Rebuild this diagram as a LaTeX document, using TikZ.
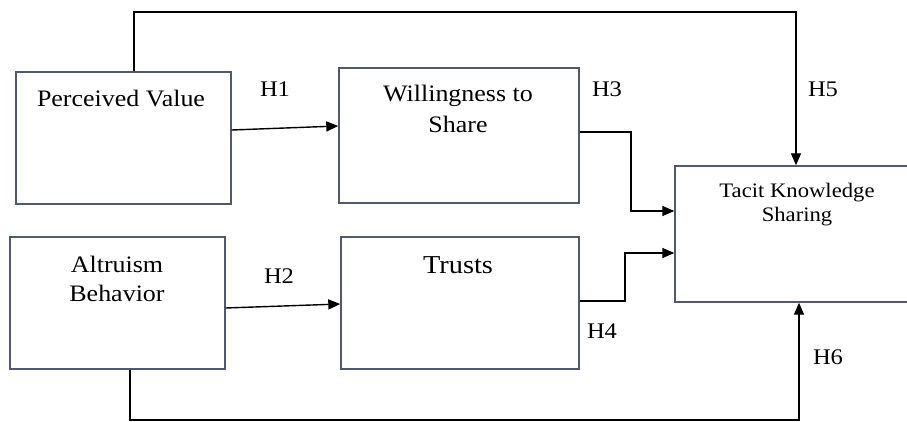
\documentclass[tikz,border=0pt]{standalone}
\usepackage{fontspec}
\setmainfont{Liberation Serif}[FakeStretch=1.1]
\usetikzlibrary{arrows.meta}
\definecolor{boxcol}{RGB}{80,90,110}
\tikzset{
  box/.style={draw=boxcol, line width=1.4pt, rectangle, inner sep=0pt},
  lbl/.style={inner sep=0pt, anchor=base, font=\fontsize{23.6}{28}\selectfont},
  hlbl/.style={inner sep=0pt, anchor=base, font=\fontsize{22.3}{28}\selectfont},
  conn/.style={draw=black, line width=1.4pt},
  arr/.style={conn, -{Triangle[length=12pt,width=10pt]}}
}
\begin{document}
\begin{tikzpicture}[x=1pt,y=-1pt]
\useasboundingbox (0,0) rectangle (907,422);
\clip (0,0) rectangle (907,422);
% boxes
\node[box, minimum width=215pt, minimum height=132pt] (pv) at (123.5,138) {};
\node[box, minimum width=240pt, minimum height=135pt] (ws) at (459,135.5) {};
\node[box, minimum width=215pt, minimum height=132pt] (ab) at (117.5,303) {};
\node[box, minimum width=238pt, minimum height=132pt] (tr) at (460,303) {};
\node[box, minimum width=280pt, minimum height=136pt] (tks) at (815,234) {};
% texts
\node[lbl] (pvt) at (121,107) {Perceived Value};
\node[lbl] (wst1) at (458,102) {Willingness to};
\node[lbl] (wst2) at (458,133) {Share};
\node[lbl] (abt1) at (117,272) {Altruism};
\node[lbl] (abt2) at (117,301) {Behavior};
\node[lbl, font=\fontsize{25.8}{30}\selectfont] (trt) at (458,273) {Trusts};
\node[lbl, font=\fontsize{20.6}{26}\selectfont] (tkst1) at (797,197) {Tacit Knowledge};
\node[lbl, font=\fontsize{20.6}{26}\selectfont] (tkst2) at (797,222) {Sharing};
% hypothesis labels
\node[hlbl] (h1) at (275,97) {H1};
\node[hlbl] (h2) at (279,283) {H2};
\node[hlbl] (h3) at (607,97) {H3};
\node[hlbl] (h4) at (602,338) {H4};
\node[hlbl] (h5) at (823,97) {H5};
\node[hlbl] (h6) at (828,364) {H6};
% connector helper coordinates
\coordinate (h3a) at (631,132);
\coordinate (h3b) at (631,211);
\coordinate (h4a) at (625,301);
\coordinate (h4b) at (625,253);
\coordinate (h5a) at (134,12);
\coordinate (h5b) at (796,12);
\coordinate (h6a) at (130,420);
\coordinate (h6b) at (799,420);
% connectors
\draw[arr] (pv.east |- 0,130) -- (ws.west |- 0,126);
\draw[arr] (ab.east |- 0,308) -- (tr.west |- 0,304);
\draw[arr] (ws.east |- h3a) -- (h3a) -- (h3b) -- (tks.west |- h3b);
\draw[arr] (tr.east |- h4a) -- (h4a) -- (h4b) -- (tks.west |- h4b);
\draw[arr] (pv.north -| h5a) -- (h5a) -- (h5b) -- (tks.north -| h5b);
\draw[arr] (ab.south -| h6a) -- (h6a) -- (h6b) -- (tks.south -| h6b);
\end{tikzpicture}
\end{document}
